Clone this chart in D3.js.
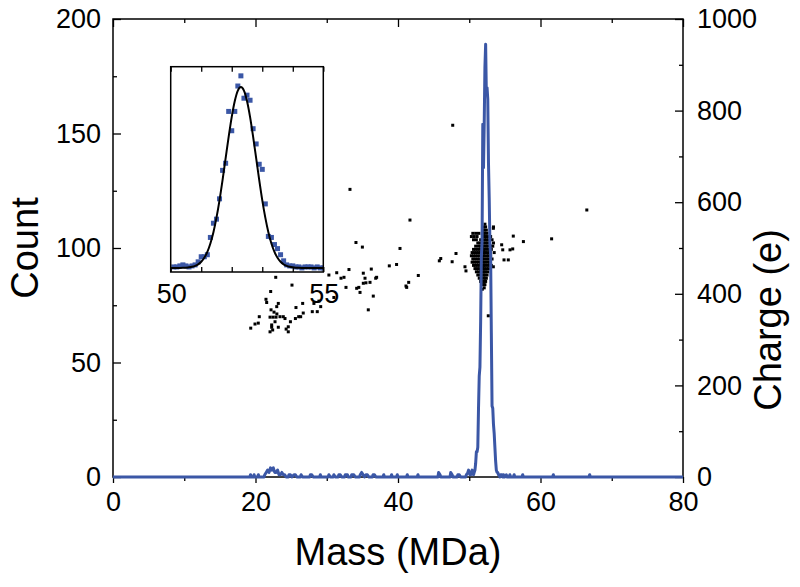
<!DOCTYPE html>
<html><head><meta charset="utf-8">
<script src="https://cdn.jsdelivr.net/npm/d3@7"></script>
<style>
body{margin:0;background:#fff}
text{font-family:"Liberation Sans",Arial,Helvetica,sans-serif;fill:#000}
</style>
</head><body><svg id="c" width="800" height="587"></svg>
<script>
// ---------------- data ----------------
const xTicks = [0, 20, 40, 60, 80];
const xMinorTicks = [10, 30, 50, 70];
const countTicks = [0, 50, 100, 150, 200];
const countMinorTicks = [25, 75, 125, 175];
const chargeTicks = [0, 200, 400, 600, 800, 1000];
const chargeMinorTicks = [100, 300, 500, 700, 900];
const insetTicks = [50, 51, 52, 53, 54, 55];
const insetLabels = [50, 55];

// mass histogram, 0.1 MDa bins around the peak (shown also in inset)
const peakMass = [50.1,50.2,50.3,50.4,50.5,50.6,50.7,50.8,50.9,51.0,
  51.1,51.2,51.3,51.4,51.5,51.6,51.7,51.8,51.9,52.0,
  52.1,52.2,52.3,52.4,52.5,52.6,52.7,52.8,52.9,53.0,
  53.1,53.2,53.3,53.4,53.5,53.6,53.7,53.8,53.9,54.0,
  54.1,54.2,54.3,54.4,54.5,54.6,54.7,54.8,54.9,55.0];
const peakCount = [1,1,2,3,2,1,2,3,6,11,
  11,13,30,44,48,68,96,103,154,135,
  154,179,189,167,170,165,137,122,102,97,
  63,31,30,23,19,13,7,3,2,2,
  1,1,0,1,1,1,0,1,0,0];

// sparse background counts outside the peak
const bgMass = [0,19.2,19.3,19.4,19.7,19.8,19.9,20.3,20.4,20.5,
  21.2,21.3,21.5,21.7,21.9,22.1,22.3,22.5,22.7,22.9,23.1,23.3,23.5,23.7,23.9,24.1,24.3,
  24.6,24.7,24.9,25.1,25.4,25.6,25.8,26.3,26.4,26.6,27.6,27.7,27.9,28.1,29.0,29.1,29.2,
  30.2,30.3,30.5,30.9,31.0,31.2,31.6,31.7,31.9,32.1,32.5,32.6,32.9,33.0,33.4,33.5,33.8,34.0,
  34.6,34.7,34.9,35.1,35.3,35.5,35.7,35.9,36.4,36.5,36.7,36.9,37.9,38.0,38.1,
  39.0,39.1,39.2,39.8,39.9,40.0,41.2,41.3,41.4,42.7,42.8,42.9,
  45.6,45.7,45.9,46.0,47.3,47.4,47.6,47.7,48.3,48.4,48.6,48.8,49.5,49.6,49.8,49.9,
  55.2,55.3,55.6,55.7,55.8,56.2,56.3,56.4,57.4,57.5,57.6,61.7,61.8,61.9,66.8,66.9,67.0,80];
const bgCount = [0,0,1,0,0,1,0,0,1,0,
  0,1,2,3,2,4,3,4,2,2,3,1,1,2,1,1,0,
  0,1,1,0,1,1,0,0,1,0,0,1,1,0,0,1,0,
  0,1,0,0,1,0,0,1,1,0,0,1,1,0,0,1,1,0,
  0,1,2,1,0,1,1,0,0,1,1,0,0,1,0,
  0,1,0,0,1,0,0,1,0,0,1,0,
  0,2,1,0,0,2,1,0,0,1,1,0,0,1,2,3,
  1,0,0,1,0,0,1,0,0,1,0,0,1,0,0,1,0,0];

// Gaussian fit drawn in the inset
const fitMass = [50.0,50.1,50.2,50.3,50.4,50.5,50.6,50.7,50.8,50.9,
  51.0,51.1,51.2,51.3,51.4,51.5,51.6,51.7,51.8,51.9,
  52.0,52.1,52.2,52.3,52.4,52.5,52.6,52.7,52.8,52.9,
  53.0,53.1,53.2,53.3,53.4,53.5,53.6,53.7,53.8,53.9,
  54.0,54.1,54.2,54.3,54.4,54.5,54.6,54.7,54.8,54.9,55.0];
const fitCount = [0,0,0,0,0.1,0.3,0.6,1.1,2.0,3.5,
  6.1,10.0,15.8,24.1,35.2,49.5,66.8,86.7,108,129.2,
  148.7,164.3,174.5,178,174.5,164.3,148.7,129.2,108,86.7,
  66.8,49.5,35.2,24.1,15.8,10.0,6.1,3.5,2.0,1.1,
  0.6,0.3,0.1,0,0,0,0,0,0,0,0];

// charge vs mass: dense cluster rows (charge level -> masses)
const clusterCharge = [552,546,539,532,525,518,511,504,497,490,483,476,469,462,455,448,441,434,427,420,413];
const clusterMass = [
  [52.2],
  [52.0,52.3,53.4],
  [51.9,52.1,52.4],
  [50.5,50.9,51.3,51.8,52.0,52.2,52.5],
  [50.3,50.7,51.1,51.9,52.1,52.3,52.6,53.0],
  [50.6,51.0,51.6,51.9,52.2,52.4,52.7,53.2],
  [51.2,51.5,51.8,52.0,52.3,52.5,52.8,53.4],
  [50.9,51.3,51.6,51.9,52.1,52.4,52.6,53.0,53.3],
  [50.6,50.9,51.2,51.5,51.8,52.0,52.2,52.5,52.8,53.1],
  [50.4,50.7,51.0,51.3,51.6,51.9,52.1,52.3,52.6,52.9,53.5],
  [50.3,50.6,50.9,51.2,51.5,51.8,52.0,52.2,52.5,52.7,53.0],
  [50.5,50.8,51.1,51.4,51.7,51.9,52.1,52.4,52.6,52.9,53.2],
  [50.4,50.7,51.0,51.3,51.6,51.9,52.1,52.3,52.6,52.8],
  [50.6,50.9,51.2,51.5,51.8,52.0,52.2,52.5,52.8,53.1],
  [50.8,51.1,51.4,51.7,51.9,52.1,52.4,52.7],
  [51.0,51.3,51.6,51.9,52.1,52.3,52.6],
  [51.2,51.5,51.8,52.0,52.2,52.5],
  [51.4,51.7,52.0,52.2,52.4],
  [51.6,51.9,52.1,52.3],
  [51.8,52.0,52.2],
  [52.1]
];

// scattered individual particles
const outlierMass = [33.26,47.68,41.68,34.1,35.0,40.28,46.0,45.8,47.6,48.14,49.4,49.54,
  56.18,57.6,56.1,55.72,54.88,55.48,54.55,54.7,53.38,53.38,52.67,51.83,
  39.8,38.78,42.85,41.5,41.12,41.22,37.0,36.87,36.25,35.13,35.37,35.13,35.5,36.07,
  34.2,34.5,34.67,36.53,35.83,33.12,32.7,32.42,32.0,31.4,30.3,29.15,27.97,28.67,
  26.62,25.68,26.06,26.34,25.12,24.6,22.84,22.13,21.47,21.57,23.2,22.98,
  22.18,22.6,23.0,22.46,22.04,22.88,23.44,22.74,22.27,22.27,22.41,22.04,
  20.53,19.93,19.33,20.39,24.6,23.9,24.14,23.2,61.56,66.5,
  24.3,24.9,25.6,26.7,28.2,28.9,31.0];
const outlierCharge = [628,768,561,512,502,499,477,472,470,488,459,450,
  526,514,498,496,474,474,507,496,459,543,352,410,
  464,461,440,425,417,414,436,434,454,445,434,423,424,425,
  412,414,403,395,365,453,414,436,434,446,441,372,361,361,
  379,370,350,350,419,317,436,405,388,381,379,372,
  365,360,356,349,349,349,350,339,332,327,321,317,
  350,334,325,336,328,350,346,327,520,583,
  323,339,346,358,379,384,392];

// ---------------- drawing ----------------
const svg = d3.select('#c');
const blue = '#3b57a6';
const L = 113, R = 683, T = 19, B = 477;

const x = d3.scaleLinear().domain([0, 80]).range([L, R]);
const yC = d3.scaleLinear().domain([0, 200]).range([B, T]);
const yQ = d3.scaleLinear().domain([0, 1000]).range([B, T]);

const defs = svg.append('defs');
defs.append('clipPath').attr('id', 'plotClip').append('rect')
  .attr('x', L).attr('y', T).attr('width', R - L).attr('height', B - T + 3);

// frame
svg.append('rect').attr('x', L).attr('y', T).attr('width', R - L).attr('height', B - T)
  .attr('fill', 'none').attr('stroke', '#000').attr('stroke-width', 1.5);

function styleAxis(g) {
  g.selectAll('path.domain').remove();
  g.selectAll('line').attr('stroke', '#000').attr('stroke-width', 1.3);
  g.selectAll('text').style('font-size', '27px').attr('font-family', null);
}

// left axis (count), ticks inward
svg.append('g').attr('transform', `translate(${L},0)`)
  .call(d3.axisLeft(yC).tickValues(countTicks).tickSize(-8).tickPadding(12).tickFormat(d3.format('d')))
  .call(styleAxis);
svg.append('g').attr('transform', `translate(${L},0)`)
  .call(d3.axisLeft(yC).tickValues(countMinorTicks).tickSize(-4).tickFormat(''))
  .call(styleAxis);

// right axis (charge), ticks inward
svg.append('g').attr('transform', `translate(${R},0)`)
  .call(d3.axisRight(yQ).tickValues(chargeTicks).tickSize(-8).tickPadding(14).tickFormat(d3.format('d')))
  .call(styleAxis);
svg.append('g').attr('transform', `translate(${R},0)`)
  .call(d3.axisRight(yQ).tickValues(chargeMinorTicks).tickSize(-4).tickFormat(''))
  .call(styleAxis);

// bottom axis, ticks outward
svg.append('g').attr('transform', `translate(0,${B})`)
  .call(d3.axisBottom(x).tickValues(xTicks).tickSize(6).tickPadding(9).tickFormat(d3.format('d')))
  .call(styleAxis);
svg.append('g').attr('transform', `translate(0,${B})`)
  .call(d3.axisBottom(x).tickValues(xMinorTicks).tickSize(4).tickFormat(''))
  .call(styleAxis);

// top axis, ticks inward
svg.append('g').attr('transform', `translate(0,${T})`)
  .call(d3.axisTop(x).tickValues(xTicks).tickSize(-8).tickFormat(''))
  .call(styleAxis);
svg.append('g').attr('transform', `translate(0,${T})`)
  .call(d3.axisTop(x).tickValues(xMinorTicks).tickSize(-4).tickFormat(''))
  .call(styleAxis);

// axis titles
svg.append('text').attr('transform', `translate(38,248) rotate(-90)`)
  .attr('text-anchor', 'middle').style('font-size', '38px').text('Count');
svg.append('text').attr('transform', `translate(781,320) rotate(-90)`)
  .attr('text-anchor', 'middle').style('font-size', '38px').text('Charge (e)');
svg.append('text').attr('x', 398).attr('y', 565)
  .attr('text-anchor', 'middle').style('font-size', '38px').text('Mass (MDa)');

// scatter points
const pts = [];
outlierMass.forEach((m, i) => pts.push([m, outlierCharge[i]]));
clusterCharge.forEach((c, i) => clusterMass[i].forEach(m => pts.push([m, c])));
const ds = 3;
svg.append('g').attr('clip-path', 'url(#plotClip)')
  .selectAll('rect').data(pts).join('rect')
  .attr('x', d => x(d[0]) - ds / 2).attr('y', d => yQ(d[1]) - ds / 2)
  .attr('width', ds).attr('height', ds).attr('fill', '#000');

// histogram line
const hist = [];
bgMass.forEach((m, i) => hist.push([m, bgCount[i]]));
peakMass.forEach((m, i) => hist.push([m, peakCount[i]]));
hist.sort((a, b) => a[0] - b[0]);
svg.append('path').attr('clip-path', 'url(#plotClip)')
  .datum(hist)
  .attr('d', d3.line().x(d => x(d[0])).y(d => yC(d[1])))
  .attr('fill', 'none').attr('stroke', blue).attr('stroke-width', 3)
  .attr('stroke-linejoin', 'round');

// ---------------- inset ----------------
const iL = 170.7, iR = 323.3, iT = 66.7, iB = 272;
const ix = d3.scaleLinear().domain([50, 55]).range([iL, iR]);
const iy = d3.scaleLinear().domain([-4, 198]).range([iB, iT]);
defs.append('clipPath').attr('id', 'insetClip').append('rect')
  .attr('x', iL).attr('y', iT).attr('width', iR - iL).attr('height', iB - iT);

const inset = svg.append('g');
inset.append('rect').attr('x', iL).attr('y', iT).attr('width', iR - iL).attr('height', iB - iT)
  .attr('fill', '#fff');

const sq = 5;
inset.append('g').attr('clip-path', 'url(#insetClip)')
  .selectAll('rect').data(peakMass.map((m, i) => [m, peakCount[i]])).join('rect')
  .attr('x', d => ix(d[0]) - sq / 2).attr('y', d => iy(d[1]) - sq / 2)
  .attr('width', sq).attr('height', sq).attr('fill', blue);

inset.append('path').attr('clip-path', 'url(#insetClip)')
  .datum(fitMass.map((m, i) => [m, fitCount[i]]))
  .attr('d', d3.line().x(d => ix(d[0])).y(d => iy(d[1])).curve(d3.curveMonotoneX))
  .attr('fill', 'none').attr('stroke', '#000').attr('stroke-width', 2);

inset.append('rect').attr('x', iL).attr('y', iT).attr('width', iR - iL).attr('height', iB - iT)
  .attr('fill', 'none').attr('stroke', '#000').attr('stroke-width', 1.5);

inset.append('g').attr('transform', `translate(0,${iB})`)
  .call(d3.axisBottom(ix).tickValues(insetTicks).tickSize(-5).tickFormat(''))
  .call(styleAxis);
inset.append('g').attr('transform', `translate(0,${iT})`)
  .call(d3.axisTop(ix).tickValues(insetTicks).tickSize(-5).tickFormat(''))
  .call(styleAxis);
inset.selectAll('text.il').data(insetLabels).join('text').attr('class', 'il')
  .attr('x', d => ix(d) + 1).attr('y', 303).attr('text-anchor', 'middle')
  .style('font-size', '27px').text(d => d);
</script>
</body></html>
